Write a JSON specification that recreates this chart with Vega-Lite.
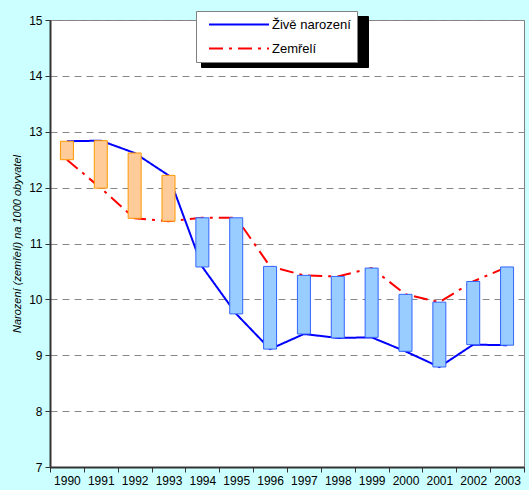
{
  "$schema": "https://vega.github.io/schema/vega-lite/v6.json",
  "autosize": "none",
  "width": 474,
  "height": 447,
  "padding": {"left": 50, "top": 20, "right": 5, "bottom": 23},
  "background": "#ccffff",
  "config": {
    "view": {"fill": "white", "stroke": "#808080", "strokeWidth": 1},
    "font": "Liberation Sans"
  },
  "data": {
    "values": [
      {"rok": "1990", "Živě narození": 12.83, "Zemřelí": 12.50},
      {"rok": "1991", "Živě narození": 12.84, "Zemřelí": 11.99},
      {"rok": "1992", "Živě narození": 12.62, "Zemřelí": 11.45},
      {"rok": "1993", "Živě narození": 12.22, "Zemřelí": 11.40},
      {"rok": "1994", "Živě narození": 10.58, "Zemřelí": 11.46},
      {"rok": "1995", "Živě narození": 9.74, "Zemřelí": 11.46},
      {"rok": "1996", "Živě narození": 9.11, "Zemřelí": 10.59},
      {"rok": "1997", "Živě narození": 9.38, "Zemřelí": 10.43},
      {"rok": "1998", "Živě narození": 9.31, "Zemřelí": 10.41},
      {"rok": "1999", "Živě narození": 9.32, "Zemřelí": 10.56},
      {"rok": "2000", "Živě narození": 9.07, "Zemřelí": 10.09},
      {"rok": "2001", "Živě narození": 8.79, "Zemřelí": 9.95},
      {"rok": "2002", "Živě narození": 9.19, "Zemřelí": 10.32},
      {"rok": "2003", "Živě narození": 9.18, "Zemřelí": 10.58}
    ]
  },
  "encoding": {
    "x": {
      "field": "rok", "type": "ordinal",
      "scale": {"paddingInner": 0, "paddingOuter": 0},
      "axis": {
        "title": null, "labelAngle": 0, "labelFontSize": 12, "labelColor": "black",
        "domainColor": "#333333", "domainWidth": 2, "tickColor": "#333333",
        "tickSize": 5, "tickBand": "extent", "labelPadding": 3
      }
    }
  },
  "layer": [
    {
      "transform": [{"fold": ["Živě narození", "Zemřelí"], "as": ["serie", "hodnota"]}],
      "mark": {"type": "point", "opacity": 0},
      "encoding": {
        "y": {"field": "hodnota", "type": "quantitative"},
        "shape": {
          "field": "serie", "type": "nominal",
          "scale": {"domain": ["Zemřelí", "Živě narození"]},
          "legend": {
            "title": null, "orient": "none", "legendX": 151, "legendY": -4, "zindex": 1,
            "fillColor": "black", "strokeColor": "black", "padding": 6,
            "symbolType": "stroke", "symbolSize": 23409, "symbolOpacity": 0, "symbolStrokeWidth": 2,
            "labelExpr": "''", "clipHeight": 15,
            "labelFontSize": 13, "labelColor": "black", "labelOpacity": 0, "rowPadding": 9, "labelOffset": 0
          }
        }
      }
    },
    {
      "transform": [{"fold": ["Živě narození", "Zemřelí"], "as": ["serie", "hodnota"]}],
      "mark": {"type": "line", "strokeWidth": 2},
      "encoding": {
        "y": {
          "field": "hodnota", "type": "quantitative",
          "scale": {"domain": [7, 15], "nice": false, "zero": false},
          "axis": {
            "title": "Narození (zemřelí) na 1000 obyvatel",
            "titleFontStyle": "italic", "titleFontWeight": "normal", "titleFontSize": 11,
            "titleColor": "black", "titlePadding": 6,
            "tickCount": 8, "labelFontSize": 12, "labelColor": "black",
            "domainColor": "#333333", "domainWidth": 2, "tickColor": "#333333", "tickSize": 5,
            "labelPadding": 3,
            "grid": true, "gridColor": "#888888", "gridDash": [7, 5], "gridWidth": 1
          }
        },
        "color": {
          "field": "serie", "type": "nominal",
          "scale": {"domain": ["Živě narození", "Zemřelí"], "range": ["#0000ff", "#ff0000"]},
          "legend": {
            "title": null, "orient": "none", "legendX": 146, "legendY": -9, "zindex": 2,
            "fillColor": "white", "strokeColor": "#808080", "padding": 6,
            "symbolType": "M0,0H10", "symbolSize": 144, "symbolStrokeWidth": 2, "clipHeight": 15,
            "labelFontSize": 13, "labelColor": "black", "rowPadding": 9, "labelOffset": 56
          }
        },
        "strokeDash": {
          "field": "serie", "type": "nominal",
          "scale": {"domain": ["Živě narození", "Zemřelí"], "range": [[1, 0], [14, 6, 3, 6]]},
          "legend": {
            "title": null, "orient": "none", "legendX": 146, "legendY": -9, "zindex": 2,
            "fillColor": "white", "strokeColor": "#808080", "padding": 6,
            "symbolType": "M0,0H10", "symbolSize": 144, "symbolStrokeWidth": 2, "clipHeight": 15,
            "labelFontSize": 13, "labelColor": "black", "rowPadding": 9, "labelOffset": 56
          }
        }
      }
    },
    {
      "mark": {"type": "bar", "size": 13, "strokeWidth": 1},
      "encoding": {
        "y": {"field": "Živě narození", "type": "quantitative"},
        "y2": {"field": "Zemřelí"},
        "fill": {
          "condition": {"test": "datum['Živě narození'] > datum['Zemřelí']", "value": "#ffcc99"},
          "value": "#99ccff"
        },
        "stroke": {
          "condition": {"test": "datum['Živě narození'] > datum['Zemřelí']", "value": "#ff9900"},
          "value": "#3366ff"
        }
      }
    }
  ]
}
